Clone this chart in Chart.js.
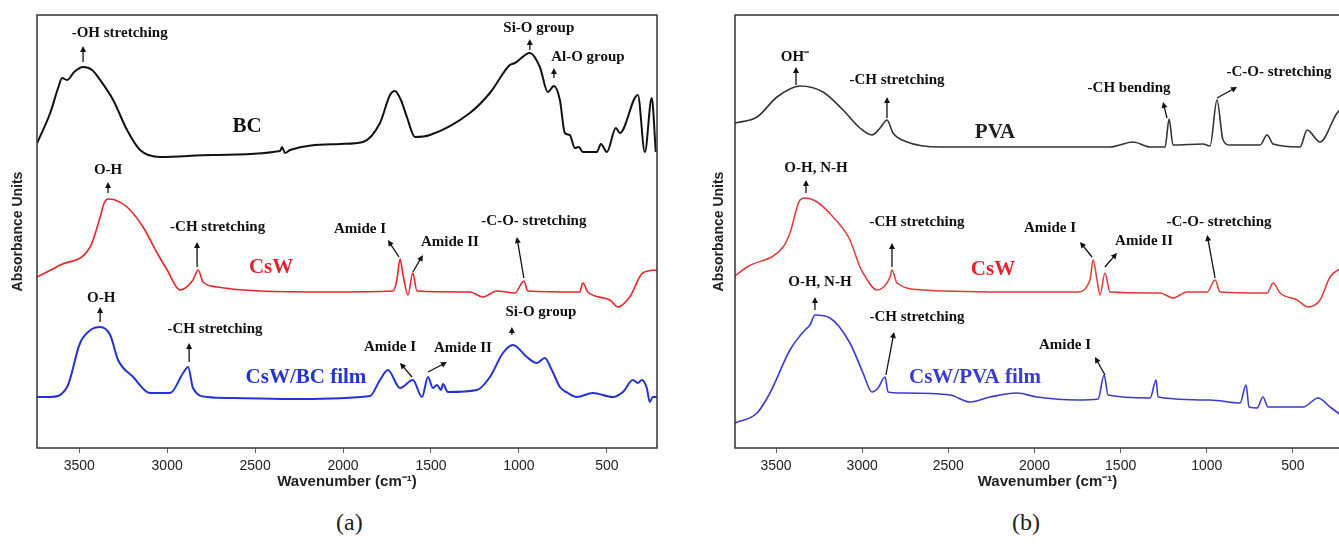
<!DOCTYPE html>
<html>
<head>
<meta charset="utf-8">
<title>FTIR spectra</title>
<script src="https://cdn.jsdelivr.net/npm/chart.js@4.4.1/dist/chart.umd.min.js"></script>
<style>
  body { margin: 0; background: #fff; width: 1339px; height: 544px; overflow: hidden; position: relative; }
  .panel { position: absolute; top: 0; }
  #panelA { left: 0; }
  #panelB { left: 690px; }
  .cap { position: absolute; top: 509px; font: 24px "Liberation Serif", serif; color: #222; }
</style>
</head>
<body>
<div class="panel" id="panelA"><canvas id="chartA" width="670" height="500"></canvas></div>
<div class="panel" id="panelB"><canvas id="chartB" width="680" height="500"></canvas></div>
<div class="cap" style="left:336px">(a)</div>
<div class="cap" style="left:1012px">(b)</div>

<script>
// tick labels shared by both panels (cm-1)
const tickLabels = [3500, 3000, 2500, 2000, 1500, 1000, 500];

// ---- panel (a) ----
const bcWn  = [3739, 3665, 3620, 3597, 3569, 3529, 3478, 3427, 3381, 3307, 3228, 3154, 3040, 2739, 2358, 2347, 2330, 2301, 2017, 1887, 1790, 1733, 1705, 1671, 1637, 1591, 1506, 1279, 1165, 1052, 1023, 938, 881, 836, 801, 767, 739, 711, 682, 659, 637, 557, 534, 500, 449, 426, 324, 284, 245, 222];
const bcAbs = [3.05, 3.35, 3.60, 3.70, 3.68, 3.76, 3.81, 3.78, 3.68, 3.48, 3.18, 2.98, 2.91, 2.93, 2.97, 3.01, 2.95, 2.98, 3.04, 3.06, 3.25, 3.53, 3.57, 3.48, 3.31, 3.11, 3.13, 3.35, 3.55, 3.83, 3.85, 3.95, 3.81, 3.56, 3.62, 3.48, 3.15, 3.13, 3.00, 3.01, 2.96, 2.96, 3.04, 2.96, 3.20, 3.15, 3.53, 2.96, 3.50, 2.96];

const cswAWn  = [3739, 3608, 3438, 3381, 3358, 3336, 3296, 3228, 3137, 3057, 3000, 2927, 2853, 2824, 2796, 2716, 2472, 2074, 1716, 1694, 1676, 1659, 1631, 1603, 1580, 1279, 1205, 1125, 1023, 972, 949, 654, 637, 608, 483, 438, 370, 296, 216];
const cswAAbs = [1.71, 1.83, 2.01, 2.31, 2.45, 2.49, 2.48, 2.41, 2.21, 1.95, 1.78, 1.58, 1.68, 1.78, 1.66, 1.61, 1.57, 1.56, 1.57, 1.68, 1.89, 1.73, 1.53, 1.75, 1.57, 1.56, 1.51, 1.57, 1.55, 1.67, 1.57, 1.56, 1.65, 1.56, 1.48, 1.41, 1.51, 1.75, 1.78];

const bcFilmWn  = [3739, 3665, 3569, 3495, 3427, 3381, 3324, 3279, 3193, 3097, 2983, 2909, 2881, 2853, 2773, 2625, 2245, 1847, 1790, 1745, 1676, 1603, 1551, 1517, 1489, 1466, 1443, 1432, 1404, 1239, 1165, 1091, 1034, 955, 898, 853, 813, 767, 722, 671, 580, 466, 409, 352, 324, 301, 273, 256, 239, 216];
const bcFilmAbs = [0.51, 0.51, 0.61, 1.05, 1.19, 1.21, 1.13, 0.88, 0.71, 0.55, 0.55, 0.75, 0.81, 0.60, 0.51, 0.50, 0.49, 0.52, 0.68, 0.78, 0.60, 0.68, 0.51, 0.71, 0.60, 0.63, 0.58, 0.64, 0.56, 0.58, 0.71, 0.95, 1.03, 0.91, 0.85, 0.90, 0.78, 0.61, 0.55, 0.51, 0.55, 0.51, 0.56, 0.68, 0.65, 0.68, 0.60, 0.46, 0.51, 0.51];

// ---- panel (b) ----
const pvaWn  = [3738, 3610, 3494, 3361, 3227, 3111, 3013, 2943, 2896, 2856, 2821, 2740, 2548, 1562, 1428, 1329, 1242, 1219, 1196, 1022, 981, 941, 906, 865, 691, 650, 615, 459, 418, 343, 244, 200];
const pvaAbs = [3.25, 3.31, 3.51, 3.62, 3.56, 3.38, 3.20, 3.13, 3.20, 3.28, 3.15, 3.06, 3.01, 3.01, 3.06, 3.01, 3.01, 3.29, 3.03, 3.04, 3.02, 3.48, 3.08, 3.03, 3.03, 3.13, 3.04, 3.01, 3.18, 3.06, 3.35, 3.42];

const cswBWn  = [3738, 3668, 3459, 3419, 3361, 3332, 3262, 3169, 3071, 3013, 2995, 2914, 2838, 2827, 2798, 2647, 2066, 1753, 1678, 1660, 1637, 1620, 1591, 1562, 1271, 1196, 1115, 998, 952, 923, 650, 615, 575, 476, 412, 343, 285, 238, 198];
const cswBAbs = [1.72, 1.81, 2.01, 2.15, 2.48, 2.50, 2.46, 2.31, 2.08, 1.81, 1.75, 1.58, 1.71, 1.78, 1.65, 1.58, 1.56, 1.56, 1.68, 1.88, 1.68, 1.53, 1.75, 1.56, 1.55, 1.50, 1.56, 1.56, 1.68, 1.56, 1.55, 1.65, 1.55, 1.48, 1.41, 1.48, 1.71, 1.78, 1.80];

const pvaFilmWn  = [3738, 3610, 3535, 3419, 3332, 3303, 3274, 3187, 3071, 2995, 2943, 2908, 2867, 2850, 2763, 2490, 2374, 2258, 2101, 1985, 1753, 1631, 1596, 1573, 1329, 1294, 1283, 981, 807, 772, 755, 708, 674, 645, 441, 354, 285, 238, 198];
const pvaFilmAbs = [0.25, 0.35, 0.55, 0.98, 1.18, 1.23, 1.33, 1.30, 1.05, 0.75, 0.56, 0.60, 0.71, 0.56, 0.55, 0.53, 0.46, 0.51, 0.55, 0.51, 0.48, 0.49, 0.73, 0.53, 0.50, 0.68, 0.51, 0.48, 0.45, 0.63, 0.41, 0.40, 0.51, 0.41, 0.41, 0.50, 0.41, 0.35, 0.30];

// peak notes: text anchor + arrow (tail -> head), all in wavenumber / absorbance
const notesA = [
  { text: "-OH stretching",   x: 3270, y: 4.15, from: [3478, 3.86], to: [3478, 4.02] },
  { text: "Si-O group",       x: 887,  y: 4.20, from: [938, 3.98],  to: [938, 4.09] },
  { text: "Al-O group",       x: 608,  y: 3.91, from: [801, 3.70],  to: [801, 3.80] },
  { text: "O-H",              x: 3336, y: 2.78, from: [3336, 2.55], to: [3336, 2.66] },
  { text: "-CH stretching",   x: 2713, y: 2.21, from: [2830, 1.81], to: [2830, 2.06] },
  { text: "Amide I",          x: 1904, y: 2.19, from: [1682, 1.91], to: [1745, 2.08] },
  { text: "Amide II",         x: 1392, y: 2.06, from: [1603, 1.76], to: [1546, 1.93] },
  { text: "-C-O- stretching", x: 915,  y: 2.27, from: [972, 1.70],  to: [1012, 2.11] },
  { text: "O-H",              x: 3375, y: 1.50, from: [3381, 1.26], to: [3381, 1.41] },
  { text: "-CH stretching",   x: 2728, y: 1.19, from: [2875, 0.86], to: [2875, 1.05] },
  { text: "Amide I",          x: 1733, y: 1.01, from: [1608, 0.71], to: [1676, 0.85] },
  { text: "Amide II",         x: 1318, y: 1.00, from: [1517, 0.76], to: [1409, 0.86] },
  { text: "Si-O group",       x: 875,  y: 1.36, from: [1040, 1.13], to: [1040, 1.21] }
];
const notesB = [
  { text: "OH\u207B",         x: 3390, y: 3.91, from: [3384, 3.63], to: [3384, 3.81] },
  { text: "-CH stretching",   x: 2798, y: 3.68, from: [2856, 3.30], to: [2856, 3.51] },
  { text: "-CH bending",      x: 1451, y: 3.60, from: [1231, 3.30], to: [1254, 3.46] },
  { text: "-C-O- stretching", x: 581,  y: 3.76, from: [941, 3.50],  to: [824, 3.61] },
  { text: "O-H, N-H",         x: 3268, y: 2.80, from: [3326, 2.55], to: [3326, 2.68] },
  { text: "-CH stretching",   x: 2682, y: 2.26, from: [2827, 1.81], to: [2827, 2.05] },
  { text: "Amide I",          x: 1910, y: 2.20, from: [1666, 1.91], to: [1736, 2.06] },
  { text: "Amide II",         x: 1364, y: 2.07, from: [1591, 1.81], to: [1521, 1.95] },
  { text: "-C-O- stretching", x: 929,  y: 2.26, from: [952, 1.70],  to: [998, 2.13] },
  { text: "O-H, N-H",         x: 3245, y: 1.66, from: [3274, 1.38], to: [3274, 1.51] },
  { text: "-CH stretching",   x: 2682, y: 1.31, from: [2862, 0.73], to: [2815, 1.16] },
  { text: "Amide I",          x: 1823, y: 1.03, from: [1591, 0.73], to: [1649, 0.91] }
];

// sample names written next to each trace
const namesA = [
  { text: "BC",          x: 2546, y: 3.21, color: "#111" },
  { text: "CsW",         x: 2409, y: 1.80, color: "#e3242b" },
  { text: "CsW/BC film", x: 2211, y: 0.70, color: "#2433d6" }
];
const namesB = [
  { text: "PVA",          x: 2229, y: 3.15, color: "#222" },
  { text: "CsW",          x: 2241, y: 1.78, color: "#e3242b" },
  { text: "CsW/PVA film", x: 2345, y: 0.70, color: "#3b3bd2" }
];

function toPoints(xs, ys) {
  return xs.map((x, i) => ({ x: x, y: ys[i] }));
}

function drawArrow(ctx, x1, y1, x2, y2) {
  const ang = Math.atan2(y2 - y1, x2 - x1);
  const head = 6;
  ctx.beginPath();
  ctx.moveTo(x1, y1);
  ctx.lineTo(x2 - Math.cos(ang) * head * 0.8, y2 - Math.sin(ang) * head * 0.8);
  ctx.stroke();
  ctx.beginPath();
  ctx.moveTo(x2, y2);
  ctx.lineTo(x2 - head * Math.cos(ang) + 3 * Math.sin(ang), y2 - head * Math.sin(ang) - 3 * Math.cos(ang));
  ctx.lineTo(x2 - head * Math.cos(ang) - 3 * Math.sin(ang), y2 - head * Math.sin(ang) + 3 * Math.cos(ang));
  ctx.closePath();
  ctx.fill();
}

// frame + notes + names
const notePlugin = {
  id: "peakNotes",
  afterDraw(chart, args, opts) {
    const ctx = chart.ctx;
    const xs = chart.scales.x, ys = chart.scales.y;
    const area = chart.chartArea;
    ctx.save();
    ctx.strokeStyle = "#333";
    ctx.lineWidth = 1.5;
    ctx.strokeRect(area.left, area.top, area.right - area.left, area.bottom - area.top);

    ctx.textAlign = "center";
    ctx.textBaseline = "middle";
    ctx.fillStyle = "#111";
    ctx.strokeStyle = "#111";
    ctx.lineWidth = 1.3;
    ctx.font = "bold 15px 'Liberation Serif', serif";
    (opts.notes || []).forEach(n => {
      ctx.fillText(n.text, xs.getPixelForValue(n.x), ys.getPixelForValue(n.y));
      drawArrow(ctx,
        xs.getPixelForValue(n.from[0]), ys.getPixelForValue(n.from[1]),
        xs.getPixelForValue(n.to[0]), ys.getPixelForValue(n.to[1]));
    });

    ctx.font = "bold 21px 'Liberation Serif', serif";
    (opts.names || []).forEach(n => {
      ctx.fillStyle = n.color;
      ctx.fillText(n.text, xs.getPixelForValue(n.x), ys.getPixelForValue(n.y));
    });
    ctx.restore();
  }
};

function makeChart(id, datasets, xMin, xMax, yWidth, yTitlePad, pad, notes, names) {
  return new Chart(document.getElementById(id).getContext("2d"), {
    type: "line",
    data: { datasets: datasets },
    options: {
      responsive: false,
      animation: false,
      layout: { padding: pad },
      elements: { point: { radius: 0 }, line: { cubicInterpolationMode: "monotone" } },
      plugins: {
        legend: { display: false },
        tooltip: { enabled: false },
        peakNotes: { notes: notes, names: names }
      },
      scales: {
        x: {
          type: "linear",
          reverse: true,
          min: xMin,
          max: xMax,
          afterBuildTicks: s => { s.ticks = tickLabels.map(v => ({ value: v })); },
          afterFit: s => { s.height = 52; },
          ticks: {
            autoSkip: false,
            maxRotation: 0,
            padding: 5,
            color: "#222",
            font: { family: "'Liberation Sans', Arial, sans-serif", size: 14 },
            callback: v => String(v)
          },
          grid: { drawOnChartArea: false, tickLength: 5, color: "#666" },
          border: { display: false },
          title: {
            display: true,
            text: "Wavenumber (cm\u207B\u00B9)",
            color: "#222",
            padding: { top: 0, bottom: 9 },
            font: { family: "'Liberation Sans', Arial, sans-serif", size: 15, weight: "bold" }
          }
        },
        y: {
          min: 0,
          max: 4.33,
          afterFit: s => { s.width = yWidth; },
          ticks: { display: false },
          grid: { display: false },
          border: { display: false },
          title: {
            display: true,
            text: "Absorbance Units",
            color: "#222",
            padding: { top: yTitlePad, bottom: 0 },
            font: { family: "'Liberation Sans', Arial, sans-serif", size: 14, weight: "bold" }
          }
        }
      }
    },
    plugins: [notePlugin]
  });
}

makeChart("chartA", [
  { data: toPoints(bcWn, bcAbs), borderColor: "#111", borderWidth: 2 },
  { data: toPoints(cswAWn, cswAAbs), borderColor: "#e8262b", borderWidth: 1.6 },
  { data: toPoints(bcFilmWn, bcFilmAbs), borderColor: "#2433d6", borderWidth: 2 }
], 215, 3740, 37, 10, { top: 15, right: 13, left: 0, bottom: 0 }, notesA, namesA);

makeChart("chartB", [
  { data: toPoints(pvaWn, pvaAbs), borderColor: "#333", borderWidth: 1.6 },
  { data: toPoints(cswBWn, cswBAbs), borderColor: "#e53a3a", borderWidth: 1.5 },
  { data: toPoints(pvaFilmWn, pvaFilmAbs), borderColor: "#3b3bd2", borderWidth: 1.6 }
], 111, 3738, 45, 21, { top: 15, right: 10, left: 0, bottom: 0 }, notesB, namesB);
</script>
</body>
</html>
